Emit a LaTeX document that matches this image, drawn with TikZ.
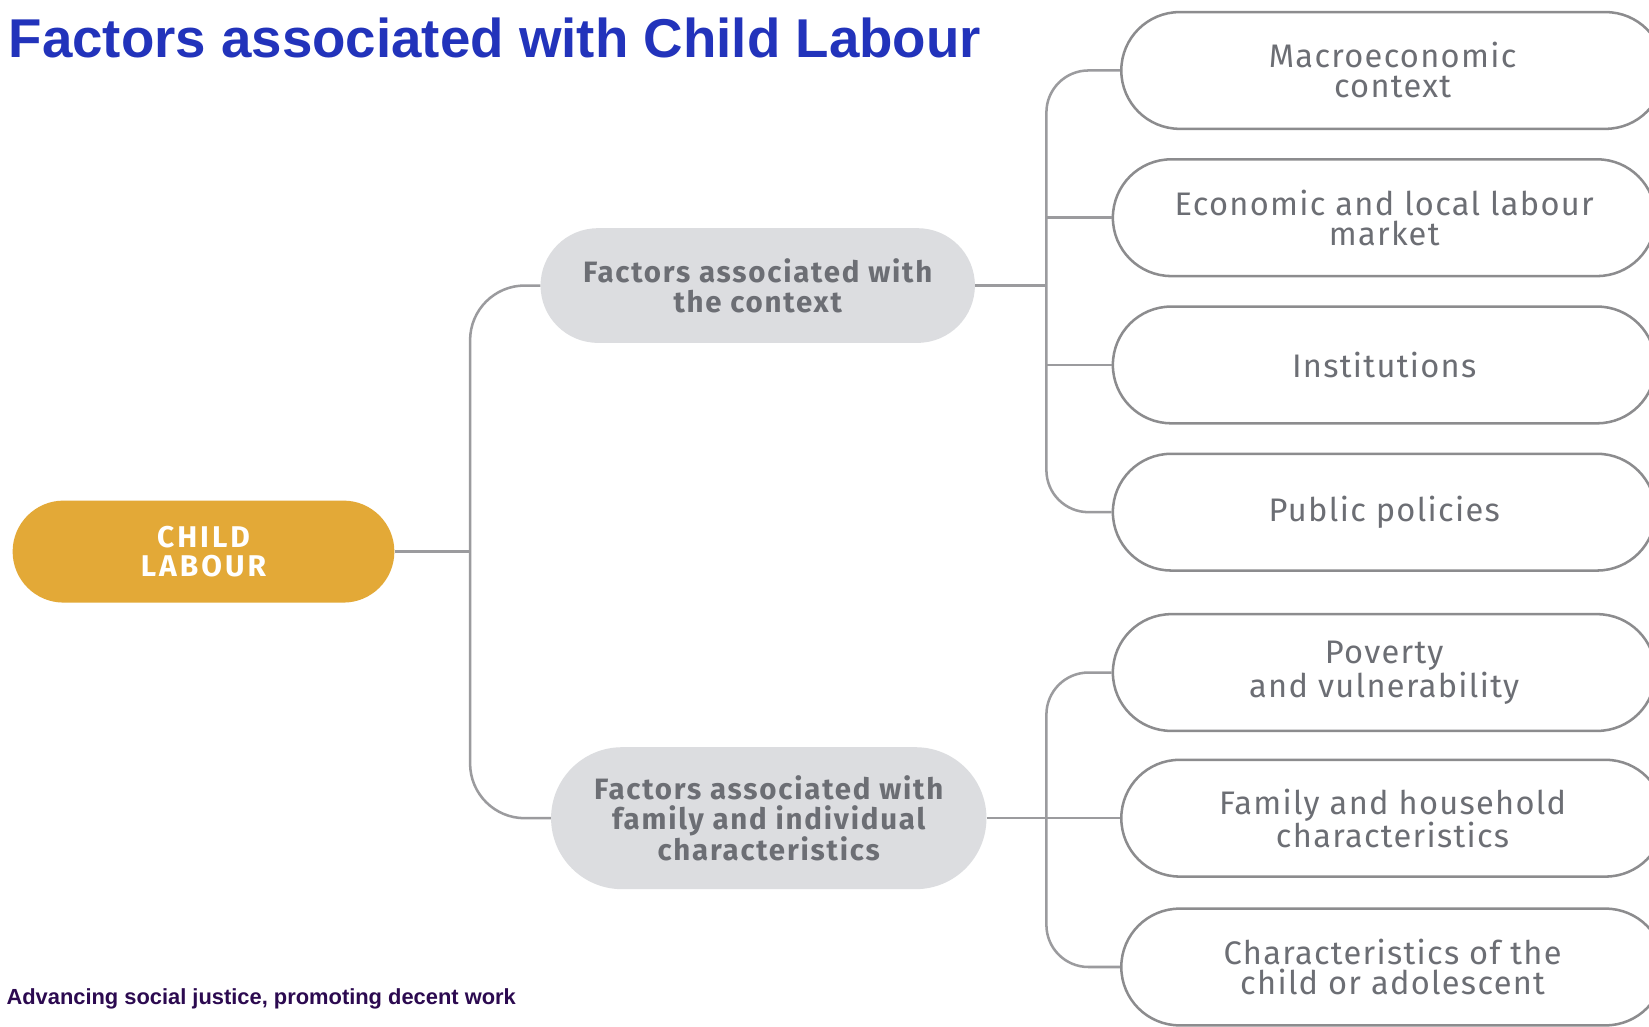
\documentclass[tikz,border=0pt]{standalone}
\usepackage{fontspec}
\setmainfont{Liberation Sans}
\newfontfamily\dinleaf[LetterSpace=4]{Fira Sans}
\newfontfamily\dinmid[LetterSpace=6]{Fira Sans}
\newfontfamily\dinroot[LetterSpace=10]{Fira Sans}
\definecolor{titleblue}{RGB}{34,51,187}
\definecolor{footpurple}{RGB}{44,10,80}
\definecolor{gold}{RGB}{227,169,55}
\definecolor{midfill}{RGB}{220,221,224}
\definecolor{txtgray}{RGB}{108,110,116}
\definecolor{linegray}{RGB}{155,155,158}
\definecolor{bordgray}{RGB}{140,140,142}
\tikzset{
  conn/.style={draw=linegray, line width=2.4pt},
  rootbox/.style={fill=gold, draw=none, minimum width=363pt, minimum height=97pt,
     rounded corners=48.5pt, inner sep=0pt, align=center, text=white,
     font={\dinroot\bfseries\fontsize{28.5}{28}\selectfont}},
  midbox/.style={fill=midfill, draw=none, minimum width=413pt, rounded corners=#1,
     minimum height=2*#1, inner sep=0pt, align=center, text=txtgray,
     font={\dinmid\bfseries\fontsize{28}{28.5}\selectfont}},
  leafbox/.style={fill=white, draw=bordgray, line width=2.4pt, minimum width=516pt,
     minimum height=111pt, rounded corners=55.5pt, inner sep=0pt, align=center,
     text=txtgray, font={\dinleaf\fontsize{31}{28.5}\selectfont}},
  titletext/.style={anchor=base west, inner sep=0pt, text=titleblue,
     font={\bfseries\fontsize{52}{60}\selectfont}},
  foottext/.style={anchor=base west, inner sep=0pt, text=footpurple,
     font={\bfseries\fontsize{20.8}{24}\selectfont}}
}
\begin{document}
\begin{tikzpicture}[x=1pt,y=-1pt]
\useasboundingbox (0,0) rectangle (1568,976);
\clip (0,0) rectangle (1568,976);
\fill[white] (0,0) rectangle (1568,976);

\node[titletext] (title) at (8,55) {Factors associated with Child Labour};
\node[foottext] (foot) at (6,955) {Advancing social justice, promoting decent work};

\node[rootbox] (root) at (193.5,524.5) {CHILD\\LABOUR};
\node[midbox=54.5pt] (ctx) at (720.5,271.5) {Factors associated with\\the context};
\node[midbox=67.5pt, minimum width=414pt] (fam) at (731,778) {Factors associated with\\family and individual\\characteristics};

\node[leafbox, anchor=west] (macro) at (1065,67) {Macroeconomic\\context};
\node[leafbox, anchor=west] (econ) at (1057,207) {Economic and local labour\\market};
\node[leafbox, anchor=west] (inst) at (1057,347) {Institutions};
\node[leafbox, anchor=west] (pub) at (1057,487) {Public policies};
\node[leafbox, anchor=west] (pov) at (1057,639.5) {Poverty\\and vulnerability};
\node[leafbox, anchor=west] (hh) at (1065,778) {Family and household\\characteristics};
\node[leafbox, anchor=west] (chi) at (1065,919.5) {Characteristics of the\\child or adolescent};

\coordinate (jL) at (447,524.5);
\coordinate (jR1) at (995,271.5);
\coordinate (jR2) at (995,778);

\draw[conn] (root.east) -- (jL);
\draw[conn, rounded corners=52pt] (ctx.west) -| (jL) |- (fam.west);
\draw[conn] (ctx.east) -- (jR1);
\draw[conn, rounded corners=40pt] (macro.west) -| (jR1) |- (pub.west);
\draw[conn] (econ.west) -- (econ.west -| jR1);
\draw[conn] (inst.west) -- (inst.west -| jR1);
\draw[conn] (fam.east) -- (hh.west);
\draw[conn, rounded corners=40pt] (pov.west) -| (jR2) |- (chi.west);
\end{tikzpicture}
\end{document}
